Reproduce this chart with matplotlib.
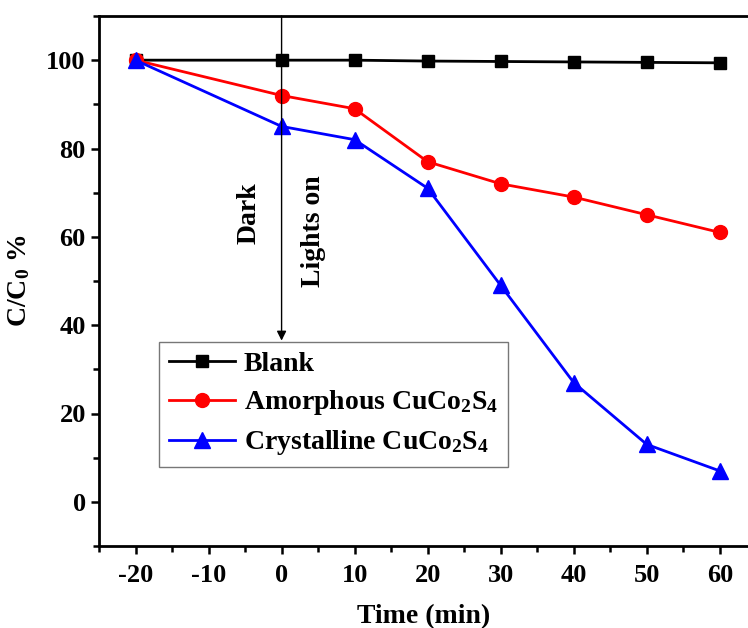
#!/usr/bin/env python3
"""Photocatalytic degradation: C/C0 vs time for blank and two CuCo2S4 samples."""

import matplotlib
matplotlib.use("Agg")
import matplotlib.pyplot as plt
from matplotlib.ticker import MultipleLocator

plt.rcParams["font.family"] = ["Liberation Serif", "DejaVu Serif"]
plt.rcParams["font.weight"] = "bold"
plt.rcParams["axes.unicode_minus"] = False
plt.rcParams["mathtext.fontset"] = "custom"
plt.rcParams["mathtext.rm"] = "Liberation Serif:bold"
plt.rcParams["mathtext.it"] = "Liberation Serif:bold"
plt.rcParams["mathtext.bf"] = "Liberation Serif:bold"

TIME = [-20, 0, 10, 20, 30, 40, 50, 60]
BLANK = [100, 100, 100, 99.8, 99.7, 99.6, 99.5, 99.4]
AMORPHOUS = [100, 92, 89, 77, 72, 69, 65, 61]
CRYSTALLINE = [100, 85, 82, 71, 49, 27, 13, 7]

LABELS = ["Blank", "Amorphous CuCo$_2$S$_4$", "Crystalline CuCo$_2$S$_4$"]


def main():
    fig = plt.figure(figsize=(7.48, 6.28), dpi=100)
    ax = fig.add_axes([99 / 748, 1 - 546 / 628, 650 / 748, 530 / 628])

    ax.plot(TIME, BLANK, color="black", marker="s", ms=9, lw=2, label=LABELS[0])
    ax.plot(TIME, AMORPHOUS, color="red", marker="o", ms=10, lw=2, label=LABELS[1])
    ax.plot(TIME, CRYSTALLINE, color="blue", marker="^", ms=11, lw=2, label=LABELS[2])

    ax.set_xlim(-25, 64)
    ax.set_ylim(-10, 110)
    ax.xaxis.set_major_locator(MultipleLocator(10))
    ax.xaxis.set_minor_locator(MultipleLocator(5))
    ax.yaxis.set_major_locator(MultipleLocator(20))
    ax.yaxis.set_minor_locator(MultipleLocator(10))
    ax.tick_params(which="both", direction="out", width=1.8, labelsize=19)
    ax.tick_params(which="major", length=6)
    ax.tick_params(which="minor", length=4)
    ax.tick_params(axis="x", pad=7)
    ax.tick_params(top=False, right=False)
    for side in ("left", "bottom", "top"):
        ax.spines[side].set_linewidth(2)
    ax.spines["right"].set_visible(False)

    ax.set_xlabel("Time (min)", fontsize=20, fontweight="bold", labelpad=12)
    ax.set_ylabel("C/C$_0$ %", fontsize=20, fontweight="bold", labelpad=10)

    # dark / light divider
    ax.annotate("", xy=(0, 36.5), xytext=(0, 110),
                arrowprops=dict(arrowstyle="-|>", color="black", lw=1,
                                mutation_scale=14, shrinkA=0, shrinkB=0))
    ax.text(-4.5, 65.4, "Dark", rotation=90, fontsize=20, fontweight="bold",
            ha="center", va="center")
    ax.text(4.4, 61.3, "Lights on", rotation=90, fontsize=20, fontweight="bold",
            ha="center", va="center")

    leg = ax.legend(loc="upper left", bbox_to_anchor=(60 / 650, (546 - 342) / 530),
                    fontsize=20, frameon=True, fancybox=False, handlelength=2.4,
                    borderpad=0.35, labelspacing=0.4, handletextpad=0.3,
                    borderaxespad=0)
    leg.get_frame().set_edgecolor("#555555")
    leg.get_frame().set_linewidth(1)

    fig.savefig("out.png", dpi=100)


if __name__ == "__main__":
    main()
